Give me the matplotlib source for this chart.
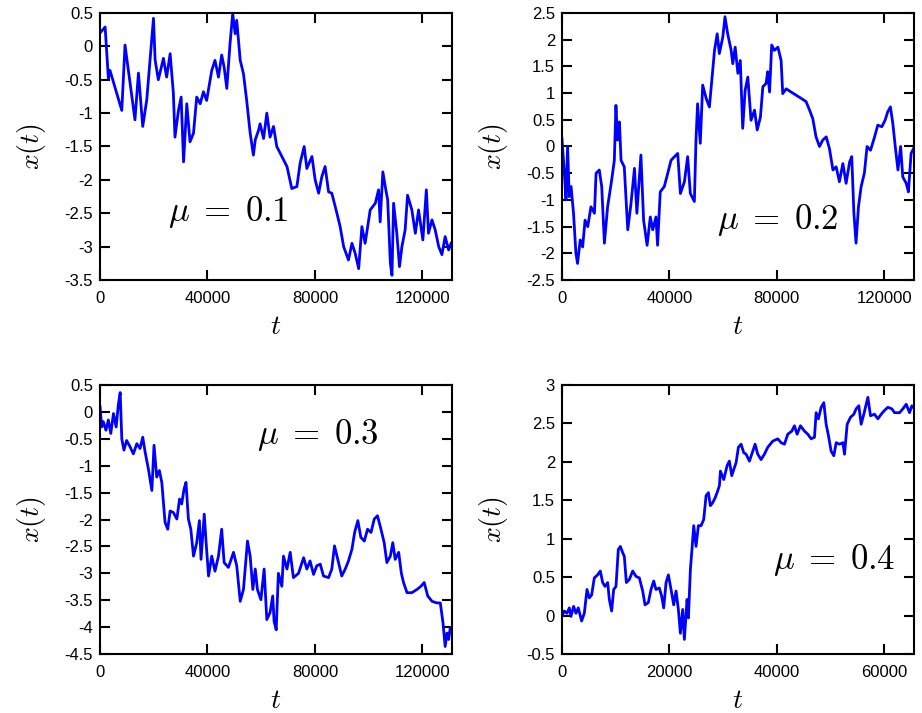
import numpy as np
import matplotlib
matplotlib.use("Agg")
import matplotlib.pyplot as plt
from matplotlib.ticker import FormatStrFormatter, FuncFormatter

# ---- data (t in thousands of steps) ----
t_mu1 = [0, 1.9, 3.1, 3.7, 8.1, 9.3, 13.0, 14.3, 15.9, 17.4, 19.9, 20.5, 21.7,
         23.6, 24.8, 26.1, 27.3, 27.9, 29.2, 30.2, 31.1, 32.3, 33.5, 34.8, 36.0,
         37.3, 38.5, 39.7, 41.6, 42.8, 44.1, 45.3, 46.2, 47.2, 48.4, 49.4, 50.3,
         50.9, 52.2, 53.4, 54.6, 55.9, 57.1, 57.8, 59.0, 59.6, 60.9, 62.1, 63.3,
         64.6, 65.8, 67.7, 69.6, 71.4, 73.3, 74.5, 76.0, 77.0, 78.9, 80.1, 81.4,
         82.6, 83.8, 85.1, 86.3, 88.2, 89.4, 90.7, 92.5, 93.8, 95.0, 96.3, 97.5,
         98.7, 100.6, 102.5, 103.7, 104.3, 105.3, 106.2, 107.1, 108.1, 108.7,
         109.3, 110.5, 111.5, 112.4, 113.6, 114.5, 116.1, 117.4, 118.6, 120.2,
         121.5, 122.3, 123.6, 124.8, 126.1, 127.3, 128.5, 129.8, 130.7]
x_mu1 = [0.2, 0.29, -0.48, -0.36, -0.96, 0.02, -1.1, -0.4, -1.2, -0.8, 0.42, -0.2,
         -0.5, -0.18, -0.46, -0.11, -0.7, -1.36, -0.96, -0.76, -1.73, -0.86, -1.43,
         -1.3, -0.76, -0.86, -0.68, -0.81, -0.36, -0.21, -0.46, -0.13, -0.31, -0.63,
         0.04, 0.49, 0.19, 0.39, -0.21, -0.41, -0.81, -1.3, -1.63, -1.4, -1.26,
         -1.16, -1.38, -1.0, -1.36, -1.2, -1.5, -1.65, -1.8, -2.13, -2.1, -1.75,
         -1.5, -1.83, -1.65, -2.0, -2.2, -1.95, -1.8, -2.18, -2.2, -2.5, -2.7,
         -3.0, -3.2, -2.95, -3.1, -3.33, -2.7, -2.95, -2.45, -2.35, -2.15, -2.63,
         -1.88, -2.1, -2.3, -3.25, -3.43, -2.35, -2.8, -3.3, -3.0, -2.75, -2.23,
         -2.45, -2.8, -2.45, -2.9, -2.15, -2.8, -2.6, -2.75, -3.0, -3.12, -2.85,
         -3.05, -2.95]

t_mu2 = [0, 0.9, 1.5, 2.1, 2.7, 3.4, 4.3, 5.2, 5.8, 6.8, 7.7, 8.6, 9.6, 10.8,
         12.1, 12.7, 13.9, 14.8, 15.8, 17.0, 18.5, 19.5, 20.1, 20.7, 21.4, 22.0,
         23.2, 24.5, 25.7, 27.0, 27.9, 29.4, 30.4, 31.7, 32.9, 33.8, 35.0, 35.6,
         36.6, 38.1, 39.4, 40.6, 41.9, 43.1, 44.1, 45.6, 46.8, 47.8, 49.3, 49.9,
         50.5, 51.5, 52.4, 53.7, 54.9, 55.8, 56.8, 57.8, 58.6, 59.9, 60.7, 61.7,
         63.0, 63.6, 64.5, 65.5, 66.4, 67.3, 68.2, 69.2, 70.4, 71.7, 72.7, 73.9,
         74.8, 76.0, 76.6, 77.3, 78.1, 79.1, 80.4, 81.6, 82.2, 83.5, 85.3, 87.2,
         89.1, 90.9, 92.2, 93.4, 94.6, 95.9, 97.1, 98.4, 99.6, 100.9, 102.1,
         103.3, 104.6, 105.8, 107.1, 107.9, 108.7, 109.5, 110.4, 111.4, 112.6,
         113.6, 114.9, 116.4, 117.6, 119.1, 120.3, 121.3, 122.3, 123.2, 124.1,
         125.1, 126.1, 126.9, 128.2, 129.0, 130.0, 130.9]
x_mu2 = [0.15, -0.5, -1.0, 0.0, -0.94, -0.75, -1.25, -2.0, -2.19, -1.75, -1.88,
         -1.38, -1.5, -1.13, -1.25, -0.5, -0.44, -0.75, -1.81, -1.13, -0.63, -0.26,
         0.77, 0.12, 0.46, -0.26, -0.38, -1.56, -1.07, -0.41, -1.25, -0.16, -1.38,
         -1.85, -1.32, -1.56, -1.32, -1.85, -0.85, -0.75, -0.5, -0.26, -0.19,
         -0.13, -0.88, -0.66, -0.19, -0.88, -1.03, 0.12, 0.80, 0.06, 1.15, 0.90,
         0.74, 1.24, 1.80, 2.11, 1.74, 2.05, 2.43, 2.11, 1.80, 1.55, 1.86, 1.37,
         1.61, 0.34, 1.05, 1.30, 0.49, 0.68, 0.31, 0.55, 1.12, 1.18, 1.40, 1.02,
         1.90, 1.80, 1.86, 1.61, 0.99, 1.08, 1.02, 0.96, 0.90, 0.84, 0.68, 0.52,
         0.18, 0.0, 0.12, 0.18, -0.04, -0.44, -0.38, -0.66, -0.32, -0.69, -0.29,
         -0.19, -1.25, -1.81, -1.13, -0.75, -0.5, 0.0, -0.07, 0.18, 0.40, 0.37,
         0.49, 0.65, 0.74, 0.43, 0.0, -0.44, 0.0, -0.57, -0.69, -0.85, -0.13, -0.04]

t_mu3 = [0, 0.6, 1.2, 2.2, 3.1, 4.0, 5.0, 6.0, 6.8, 7.5, 8.1, 8.9, 9.9, 11.2,
         12.4, 13.7, 14.9, 15.9, 16.8, 18.0, 19.3, 20.1, 21.1, 22.1, 23.0, 23.6,
         24.2, 25.2, 26.1, 27.3, 28.6, 29.6, 30.4, 31.3, 32.0, 32.9, 33.8, 34.8,
         36.0, 37.0, 37.6, 38.8, 39.5, 40.4, 41.6, 42.8, 44.1, 45.3, 46.2, 47.8,
         49.7, 50.9, 52.2, 53.4, 54.9, 55.9, 56.9, 57.8, 58.6, 59.9, 61.1, 62.1,
         63.3, 64.3, 64.8, 65.6, 66.4, 67.7, 68.3, 69.6, 70.8, 72.0, 73.9, 75.8,
         77.0, 78.2, 79.5, 80.7, 82.0, 83.2, 85.1, 86.3, 87.3, 88.8, 90.0, 91.3,
         92.5, 93.8, 94.8, 96.0, 97.1, 98.4, 99.6, 100.9, 102.1, 103.3, 104.6,
         105.8, 106.8, 108.1, 109.0, 109.9, 111.2, 112.2, 113.0, 114.3, 116.1,
         118.0, 119.5, 120.7, 122.0, 123.6, 125.4, 126.7, 127.7, 128.5, 129.2,
         129.8, 130.4, 131.0]
x_mu3 = [0.10, -0.28, -0.18, -0.34, -0.15, -0.40, -0.03, -0.28, 0.13, 0.36, -0.50,
         -0.71, -0.53, -0.65, -0.78, -0.59, -0.68, -0.47, -0.75, -1.06, -1.46,
         -0.62, -1.21, -1.09, -1.31, -1.68, -2.05, -2.18, -1.84, -1.87, -1.99,
         -1.62, -1.71, -1.43, -1.31, -1.99, -2.18, -2.68, -2.43, -2.02, -2.74,
         -1.90, -2.43, -3.05, -2.68, -2.96, -2.68, -2.18, -2.80, -2.89, -2.61,
         -2.86, -3.52, -3.30, -2.40, -2.68, -3.30, -2.92, -3.30, -3.49, -2.92,
         -3.86, -3.73, -3.42, -3.89, -4.05, -3.0, -3.24, -2.68, -2.92, -2.61,
         -3.08, -3.0, -2.71, -2.92, -2.77, -3.02, -2.86, -2.83, -3.05, -3.08,
         -2.92, -2.49, -2.80, -3.05, -2.92, -2.77, -2.55, -2.24, -2.02, -2.33,
         -2.40, -2.18, -2.24, -1.99, -1.93, -2.18, -2.43, -2.80, -2.68, -2.43,
         -2.74, -2.61, -3.0, -3.17, -3.36, -3.36, -3.30, -3.24, -3.17, -3.42,
         -3.52, -3.55, -3.55, -3.92, -4.36, -4.11, -4.23, -4.01, -4.05]

t_mu4 = [0, 0.43, 0.93, 1.37, 1.68, 2.17, 2.61, 3.04, 3.66, 4.16, 4.66, 5.09,
         5.53, 6.02, 6.64, 7.14, 7.58, 8.01, 8.51, 8.82, 9.25, 9.63, 10.06, 10.49,
         10.87, 11.30, 11.61, 11.99, 12.54, 13.17, 13.79, 14.41, 15.03, 15.46,
         16.08, 16.58, 17.08, 17.51, 18.13, 18.57, 18.94, 19.38, 19.81, 20.31,
         20.80, 21.24, 21.67, 22.05, 22.48, 22.79, 23.29, 23.54, 23.91, 24.16,
         24.53, 24.96, 25.40, 25.90, 26.39, 26.83, 27.26, 27.63, 28.07, 28.50,
         28.88, 29.31, 29.50, 30.12, 30.74, 31.17, 31.61, 31.98, 32.42, 32.85,
         33.35, 33.84, 34.28, 34.90, 35.52, 35.96, 36.45, 37.07, 37.69, 38.31,
         39.25, 40.18, 40.80, 41.42, 42.04, 42.79, 43.28, 43.78, 44.40, 45.15,
         45.77, 46.39, 47.01, 47.32, 47.75, 48.25, 48.75, 49.18, 49.62, 50.11,
         50.61, 51.05, 51.67, 52.29, 52.60, 53.10, 53.72, 54.34, 54.77, 55.27,
         55.70, 56.20, 56.64, 56.95, 57.44, 58.19, 58.81, 59.43, 60.05, 60.67,
         61.42, 61.91, 62.85, 63.47, 64.09, 64.71, 65.14, 65.52]
x_mu4 = [-0.01, 0.06, 0.03, 0.10, -0.01, 0.12, 0.03, 0.10, -0.07, 0.03, 0.34, 0.23,
         0.27, 0.49, 0.53, 0.58, 0.43, 0.38, 0.43, 0.21, 0.06, 0.34, 0.38, 0.86,
         0.90, 0.82, 0.77, 0.43, 0.47, 0.58, 0.51, 0.49, 0.32, 0.14, 0.17, 0.34,
         0.45, 0.34, 0.36, 0.25, 0.10, 0.43, 0.53, 0.34, 0.14, 0.32, 0.08, -0.23,
         0.08, -0.31, 0.21, -0.03, 0.60, 0.82, 1.17, 0.90, 1.17, 1.17, 1.25, 1.56,
         1.60, 1.43, 1.47, 1.53, 1.60, 1.69, 1.88, 1.77, 1.95, 2.01, 1.82, 1.90,
         1.99, 2.19, 2.23, 2.12, 2.10, 2.01, 2.14, 2.23, 2.10, 2.03, 2.10, 2.19,
         2.27, 2.30, 2.25, 2.23, 2.36, 2.40, 2.47, 2.36, 2.47, 2.40, 2.36, 2.30,
         2.32, 2.64, 2.56, 2.71, 2.77, 2.49, 2.34, 2.14, 2.08, 2.25, 2.23, 2.25,
         2.10, 2.49, 2.58, 2.62, 2.69, 2.73, 2.49, 2.62, 2.75, 2.84, 2.60, 2.62,
         2.56, 2.62, 2.67, 2.71, 2.69, 2.64, 2.64, 2.69, 2.75, 2.64, 2.73, 2.70]

panels = [
    (t_mu1, x_mu1, r"$\mu\;=\;0.1$", 131072, [0, 40000, 80000, 120000], (-3.5, 0.5), (0.364, 0.255)),
    (t_mu2, x_mu2, r"$\mu\;=\;0.2$", 131072, [0, 40000, 80000, 120000], (-2.5, 2.5), (0.614, 0.225)),
    (t_mu3, x_mu3, r"$\mu\;=\;0.3$", 131072, [0, 40000, 80000, 120000], (-4.5, 0.5), (0.619, 0.814)),
    (t_mu4, x_mu4, r"$\mu\;=\;0.4$", 65536, [0, 20000, 40000, 60000], (-0.5, 3.0), (0.773, 0.350)),
]
boxes = [
    [0.1085, 0.6073, 0.3818, 0.3745],
    [0.6095, 0.6073, 0.3818, 0.3745],
    [0.1085, 0.0827, 0.3818, 0.3773],
    [0.6095, 0.0827, 0.3818, 0.3773],
]

plt.rcParams.update({
    "font.family": ["Liberation Sans", "DejaVu Sans"],
    "mathtext.fontset": "cm",
    "axes.unicode_minus": False,
    "axes.linewidth": 1.5,
})

fig = plt.figure(figsize=(9.22, 7.13), dpi=100)
for (t, x, lab, tmax, xt, ylim, txy), box in zip(panels, boxes):
    ax = fig.add_axes(box)
    ax.plot(np.array(t) * 1000, x, color="#0000ff", lw=2.0)
    ax.set_xlim(0, tmax)
    ax.set_ylim(*ylim)
    ax.set_xticks(xt)
    ax.set_yticks(np.arange(ylim[0], ylim[1] + 0.01, 0.5))
    ax.xaxis.set_major_formatter(FormatStrFormatter("%d"))
    ax.yaxis.set_major_formatter(FuncFormatter(lambda v, p: "%g" % v))
    ax.tick_params(direction="in", top=True, right=True, length=7.5,
                   width=1.5, labelsize=12)
    ax.tick_params(axis="x", pad=8)
    ax.tick_params(axis="y", pad=5)
    ax.set_xlabel(r"$t$", fontsize=20, labelpad=6)
    ax.set_ylabel(r"$x(t)$", fontsize=20, labelpad=12)
    ax.text(txy[0], txy[1], lab, transform=ax.transAxes, fontsize=25,
            ha="center", va="center")

fig.savefig("out.png", dpi=100)
